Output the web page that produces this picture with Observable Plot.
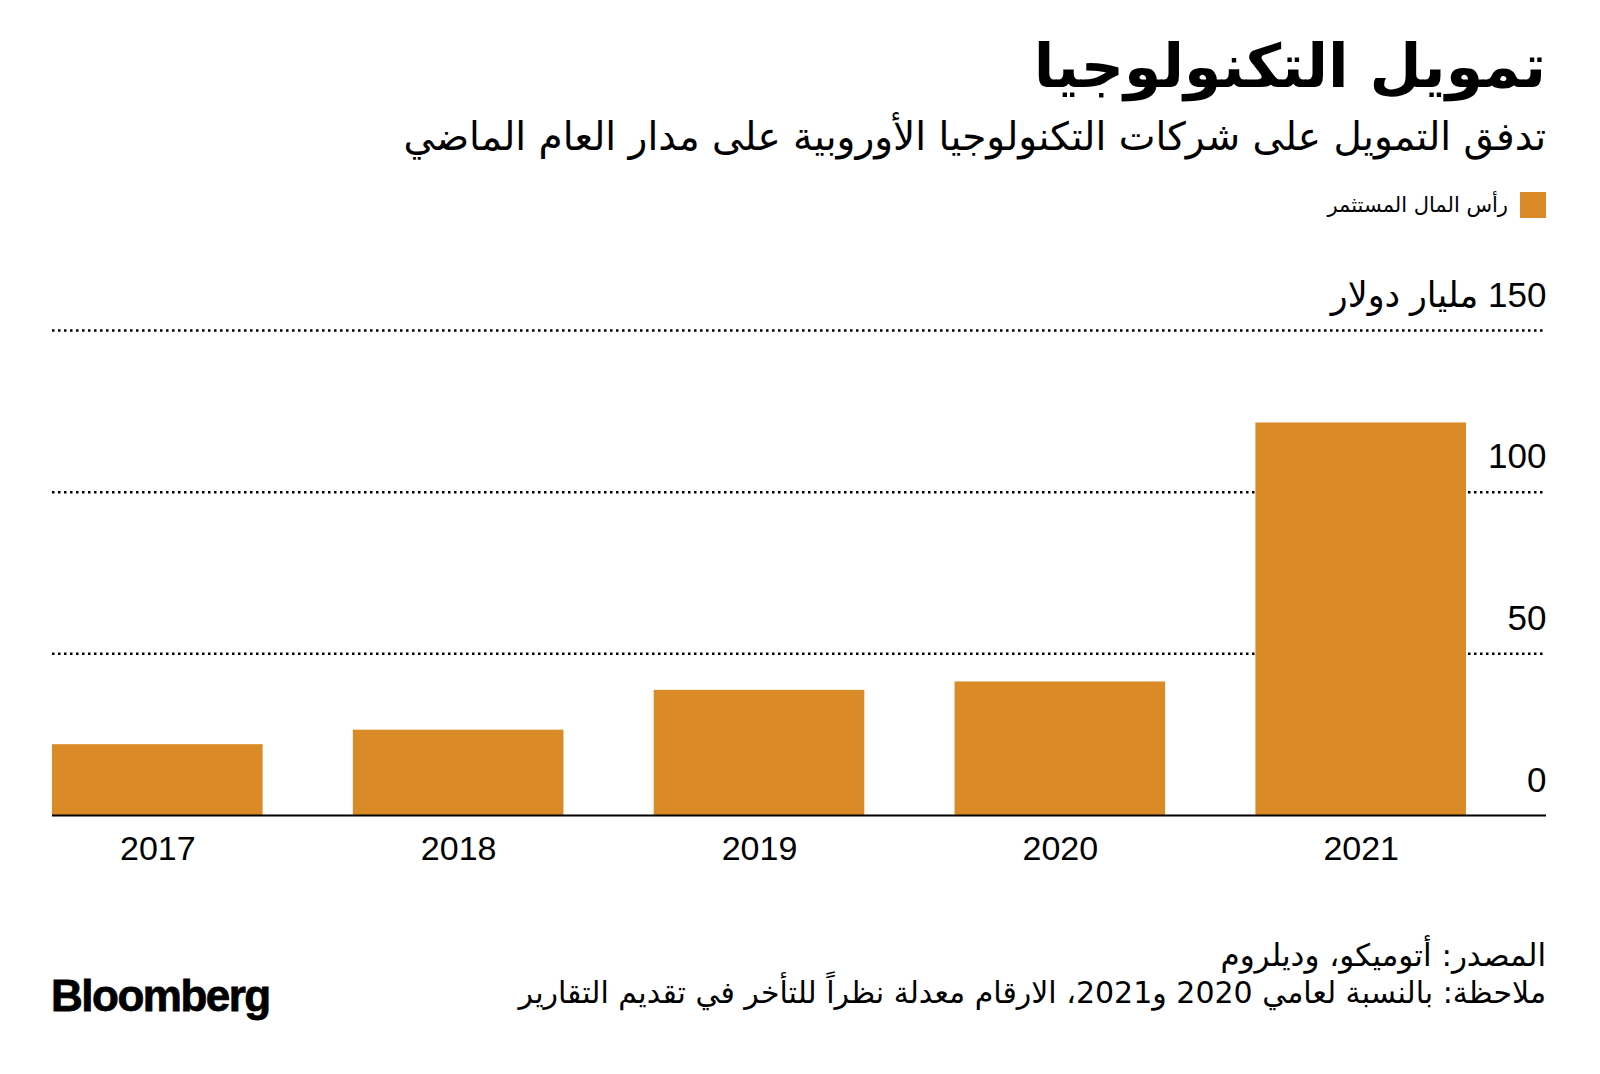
<!DOCTYPE html>
<html>
<head>
<meta charset="utf-8">
<script src="https://cdn.jsdelivr.net/npm/d3@7"></script>
<script src="https://cdn.jsdelivr.net/npm/@observablehq/plot@0.6"></script>
<style>
  html, body { margin: 0; padding: 0; background: #fff; }
  body { width: 1600px; height: 1074px; position: relative; overflow: hidden; font-family: "DejaVu Sans", "Liberation Sans", sans-serif; color: #000; }
  .t { position: absolute; white-space: nowrap; line-height: 1; }
  #title { right: 54px; top: 36px; font-size: 60px; font-weight: bold; direction: rtl; }
  #subtitle { right: 54px; top: 117px; font-size: 39px; direction: rtl; }
  #legend { right: 54px; top: 192px; font-size: 21px; direction: rtl; display: flex; align-items: center; gap: 12px; }
  #legend .sw { width: 26px; height: 26px; display: inline-block; }
  #chart { position: absolute; left: 0; top: 250px; }
  #source { right: 54px; top: 940px; font-size: 31px; direction: rtl; }
  #note { right: 54px; top: 978px; font-size: 30px; direction: rtl; }
  #logo { left: 51px; top: 974px; font-family: "Liberation Sans", Arial, sans-serif; font-weight: bold; font-size: 44px; letter-spacing: -1.5px; -webkit-text-stroke: 0.8px #000; }
</style>
</head>
<body>
<div class="t" id="title"></div>
<div class="t" id="subtitle"></div>
<div class="t" id="legend"></div>
<div id="chart"></div>
<div class="t" id="source"></div>
<div class="t" id="note"></div>
<div class="t" id="logo"></div>
<script>
const titleText = "تمويل التكنولوجيا";
const subtitleText = "تدفق التمويل على شركات التكنولوجيا الأوروبية على مدار العام الماضي";
const legendLabel = "رأس المال المستثمر";
const sourceText = "المصدر: أتوميكو، وديلروم";
const noteText = "ملاحظة: بالنسبة لعامي 2020 و2021، الارقام معدلة نظراً للتأخر في تقديم التقارير";
const logoText = "Bloomberg";

const years = ["2017", "2018", "2019", "2020", "2021"];
const values = [21.9, 26.4, 38.7, 41.3, 121.4];
const yTicks = [0, 50, 100, 150];
const yUnit = "مليار دولار";
const barColor = "#DA8A27";

document.getElementById("title").textContent = titleText;
document.getElementById("subtitle").textContent = subtitleText;
const leg = document.getElementById("legend");
leg.innerHTML = `<span class="sw" style="background:${barColor}"></span><span>${legendLabel}</span>`;
document.getElementById("source").textContent = sourceText;
document.getElementById("note").textContent = noteText;
document.getElementById("logo").textContent = logoText;

const data = years.map((y, i) => ({year: y, value: values[i]}));
const tickLabel = d => d === 150 ? "\u202B" + d + " " + yUnit + "\u202C" : String(d);

const chart = Plot.plot({
  width: 1600,
  height: 650,
  marginTop: 80,
  marginBottom: 85,
  marginLeft: 52,
  marginRight: 134,
  style: { fontFamily: "Liberation Sans, DejaVu Sans, sans-serif", background: "transparent" },
  x: { type: "band", domain: years, paddingInner: 0.3, paddingOuter: 0, round: false, axis: null, label: null },
  y: { domain: [0, 150], axis: null },
  marks: [
    Plot.ruleY(yTicks.filter(d => d > 0), { stroke: "#000", strokeWidth: 2.5, strokeDasharray: "2.5,3.5", insetRight: -80 }),
    Plot.barY(data, { x: "year", y: "value", fill: barColor }),
    Plot.ruleY([0], { stroke: "#000", strokeWidth: 2, insetRight: -80 }),
    Plot.text(yTicks, { y: d => d, text: tickLabel, frameAnchor: "right", textAnchor: "end", dx: 80, dy: -35, fontSize: 35, fill: "#000" }),
    Plot.axisX({ tickSize: 0, tickPadding: 20, fontSize: 34, fill: "#000", label: null })
  ]
});
document.getElementById("chart").appendChild(chart);
</script>
</body>
</html>
